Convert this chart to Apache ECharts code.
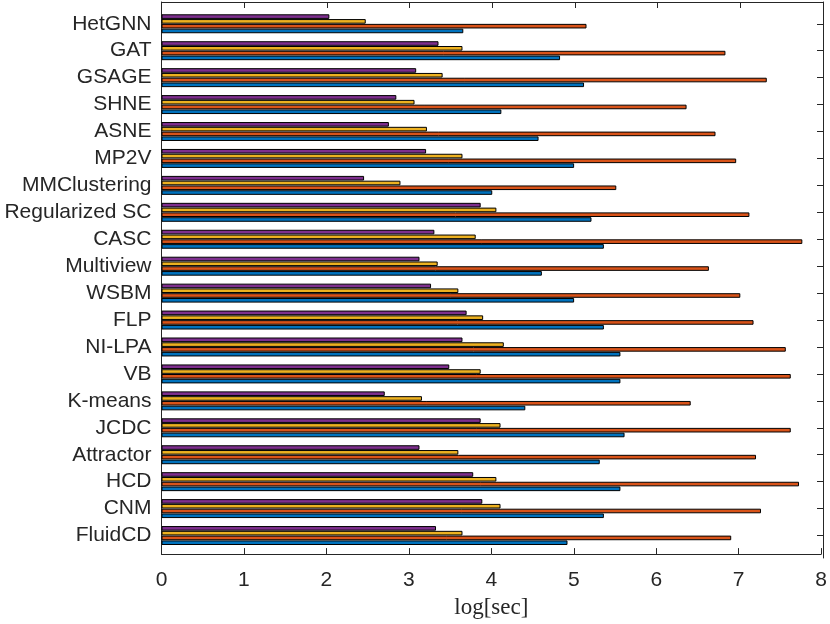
<!DOCTYPE html>
<html>
<head>
    <meta charset="utf-8">
    <title>Runtime</title>
    <script src="https://cdn.jsdelivr.net/npm/echarts@6/dist/echarts.min.js"></script>
    <style>
        html, body { margin: 0; padding: 0; background: #fff; }
    </style>
</head>
<body>
<div id="main" style="width: 830px;height:624px;"></div>
<script type="text/javascript">
    // methods, top to bottom
    const methods = ['HetGNN', 'GAT', 'GSAGE', 'SHNE', 'ASNE', 'MP2V', 'MMClustering',
        'Regularized SC', 'CASC', 'Multiview', 'WSBM', 'FLP', 'NI-LPA', 'VB', 'K-means',
        'JCDC', 'Attractor', 'HCD', 'CNM', 'FluidCD'];

    // log[sec] per method, one array per bar colour (top bar of a group first)
    const purpleVals = [2.03, 3.35, 3.08, 2.84, 2.75, 3.20, 2.45, 3.86, 3.30, 3.12,
        3.26, 3.69, 3.64, 3.48, 2.70, 3.86, 3.12, 3.77, 3.88, 3.32];
    const yellowVals = [2.47, 3.64, 3.40, 3.06, 3.21, 3.64, 2.89, 4.05, 3.80, 3.34,
        3.59, 3.89, 4.14, 3.86, 3.15, 4.10, 3.59, 4.05, 4.10, 3.64];
    const orangeVals = [5.14, 6.82, 7.32, 6.35, 6.70, 6.95, 5.50, 7.11, 7.75, 6.62,
        7.00, 7.16, 7.55, 7.61, 6.40, 7.61, 7.19, 7.71, 7.25, 6.89];
    const blueVals = [3.65, 4.82, 5.11, 4.11, 4.56, 4.99, 4.00, 5.20, 5.35, 4.60,
        4.99, 5.35, 5.55, 5.55, 4.40, 5.60, 5.30, 5.55, 5.35, 4.91];

    const xTicks = [0, 1, 2, 3, 4, 5, 6, 7, 8];

    const axisColor = '#262626';
    const myChart = echarts.init(document.getElementById('main'));

    function barSeries(name, values, color) {
        return {
            name: name,
            type: 'bar',
            xAxisIndex: 2,
            yAxisIndex: 2,
            data: values,
            barWidth: 4.6,
            barGap: '4%',
            itemStyle: {color: color, borderColor: '#000', borderWidth: 1},
            silent: true
        };
    }

    const xCommon = {
        type: 'value',
        min: xTicks[0],
        max: xTicks[xTicks.length - 1],
        interval: 1,
        splitLine: {show: false}
    };

    const boxLine = {show: true, onZero: false, lineStyle: {color: axisColor, width: 1}};

    const option = {
        animation: false,
        backgroundColor: '#fff',
        grid: [
            // box of the axes
            {left: 161.5, right: 7, top: 2, bottom: 66},
            // same box, used for the top and right edges
            {left: 161.5, right: 7, top: 2, bottom: 66},
            // inner band area holding the bars
            {left: 161.5, right: 7, top: 10.3, bottom: 75}
        ],
        xAxis: [
            Object.assign({}, xCommon, {
                gridIndex: 0,
                position: 'bottom',
                name: 'log[sec]',
                nameLocation: 'middle',
                nameGap: 38,
                nameTextStyle: {fontFamily: 'Liberation Serif', fontSize: 23, color: axisColor},
                axisLine: boxLine,
                axisTick: {show: true, inside: true, length: 6, lineStyle: {color: axisColor}},
                axisLabel: {show: true, margin: 16, fontFamily: 'Liberation Sans', fontSize: 21, color: axisColor}
            }),
            Object.assign({}, xCommon, {
                gridIndex: 1,
                position: 'top',
                axisLine: boxLine,
                axisTick: {show: true, inside: true, length: 6, lineStyle: {color: axisColor}},
                axisLabel: {show: false}
            }),
            Object.assign({}, xCommon, {
                gridIndex: 2,
                show: false
            })
        ],
        yAxis: [
            {
                type: 'value', gridIndex: 0, position: 'left', min: 0, max: 1,
                axisLine: boxLine,
                axisTick: {show: false}, axisLabel: {show: false}, splitLine: {show: false}
            },
            {
                type: 'value', gridIndex: 1, position: 'right', min: 0, max: 1,
                axisLine: boxLine,
                axisTick: {show: false}, axisLabel: {show: false}, splitLine: {show: false}
            },
            {
                type: 'category', gridIndex: 2, position: 'left',
                data: methods, inverse: true,
                axisLine: {show: false},
                axisTick: {show: false},
                axisLabel: {show: true, interval: 0, margin: 10, padding: [4, 0, 0, 0],
                    fontFamily: 'Liberation Sans', fontSize: 21, color: axisColor}
            },
            {
                type: 'category', gridIndex: 2, position: 'right',
                data: methods, inverse: true,
                axisLine: {show: false},
                axisTick: {show: true, interval: 0, inside: true, alignWithLabel: true, length: 6,
                    lineStyle: {color: axisColor}},
                axisLabel: {show: false, interval: 0}
            }
        ],
        series: [
            barSeries('purple', purpleVals, '#7E2F8E'),
            barSeries('yellow', yellowVals, '#EDB120'),
            barSeries('orange', orangeVals, '#D95319'),
            barSeries('blue', blueVals, '#0072BD')
        ]
    };

    myChart.setOption(option);
</script>
</body>
</html>
